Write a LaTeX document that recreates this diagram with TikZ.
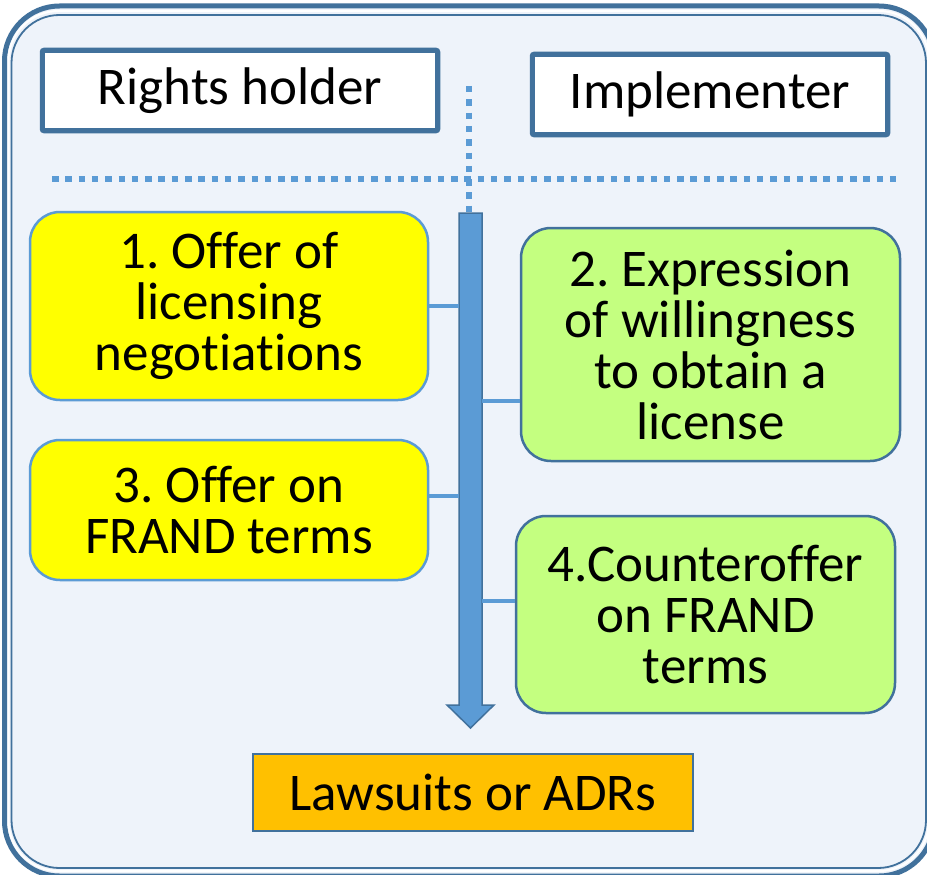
\documentclass[tikz,border=0pt]{standalone}
\usepackage{fontspec}
\setmainfont{Carlito}[Ligatures={NoCommon}]
\frenchspacing
\definecolor{frameblue}{HTML}{41719C}
\definecolor{lightblue}{HTML}{5B9BD5}
\definecolor{bgblue}{HTML}{EEF3FA}
\definecolor{yel}{HTML}{FFFF00}
\definecolor{grn}{HTML}{C4FF80}
\definecolor{orng}{HTML}{FFC000}
\tikzset{
  txt/.style={font=\fontsize{53}{51}\selectfont, align=center, text=black, inner sep=0pt},
  yelbox/.style={txt, draw=lightblue, line width=2.5pt, fill=yel, rounded corners=30pt},
  grnbox/.style={txt, draw=frameblue, line width=2.5pt, fill=grn, rounded corners=30pt},
  headbox/.style={txt, draw=frameblue, line width=4.5pt, fill=white, rounded corners=2pt},
  linkline/.style={draw=lightblue, line width=4pt},
  dotline/.style={draw=lightblue, line width=6pt, dash pattern=on 6.5pt off 6.8pt},
}
\begin{document}
\begin{tikzpicture}[x=1pt,y=-1pt]
\useasboundingbox (0,0) rectangle (927,875);
% frame
\fill[white] (0,0) rectangle (927,875);
\draw[frameblue, line width=5pt, fill=bgblue, rounded corners=55pt] (4.5,6) rectangle (934,876);
\draw[white, line width=2pt, rounded corners=50pt] (8.5,11) rectangle (929,871);
\draw[frameblue, line width=1.8pt, rounded corners=48pt] (11.5,15) rectangle (926,868);
% header boxes
\node[headbox, minimum width=396pt, minimum height=81pt] (rh) at (240,90.5) {Rights holder};
\draw[frameblue, line width=1pt] ([shift={(5pt,5pt)}]rh.south west) rectangle ([shift={(-5pt,-5pt)}]rh.north east);
\node[headbox, minimum width=356pt, minimum height=81pt] (im) at (710,94.5) {Implementer};
\draw[frameblue, line width=1pt] ([shift={(5pt,5pt)}]im.south west) rectangle ([shift={(-5pt,-5pt)}]im.north east);
% dotted separators
\coordinate (hl) at (52,179);
\coordinate (hr) at (897,179);
\coordinate (vt) at (469,86);
\coordinate (vb) at (469,212);
\draw[dotline] (hl) -- (hr);
\draw[dotline] (vt) -- (vb);
% arrow
\coordinate (shaftL) at (459,0);
\coordinate (shaftR) at (482,0);
\draw[frameblue, line width=1.5pt, fill=lightblue, line join=miter]
  (459,213) -- (482,213) -- (482,705) -- (494,705) -- (470.5,728) -- (447,705) -- (459,705) -- cycle;
% step boxes
\node[yelbox, minimum width=398pt, minimum height=188pt] (b1) at (229,306) {1. Offer of\\licensing\\negotiations};
\node[grnbox, minimum width=379pt, minimum height=233pt] (b2) at (710.5,344.5) {2. Expression\\of willingness\\to obtain a\\license};
\node[yelbox, minimum width=398pt, minimum height=140pt] (b3) at (229,510) {3. Offer on\\FRAND terms};
\node[grnbox, minimum width=379pt, minimum height=197pt] (b4) at (705.5,614.5) {4.Counteroffer\\on FRAND\\terms};
% connectors
\draw[linkline] (b1.east) -- (b1.east -| shaftL);
\draw[linkline] (b2.west |- 0,401) -- (shaftR |- 0,401);
\draw[linkline] (b3.east |- 0,496) -- (shaftL |- 0,496);
\draw[linkline] (b4.west |- 0,601) -- (shaftR |- 0,601);
% final box
\node[txt, draw=frameblue, line width=1.5pt, fill=orng, minimum width=440pt, minimum height=77pt] (law) at (473,792.5) {Lawsuits or ADRs};
\end{tikzpicture}
\end{document}
